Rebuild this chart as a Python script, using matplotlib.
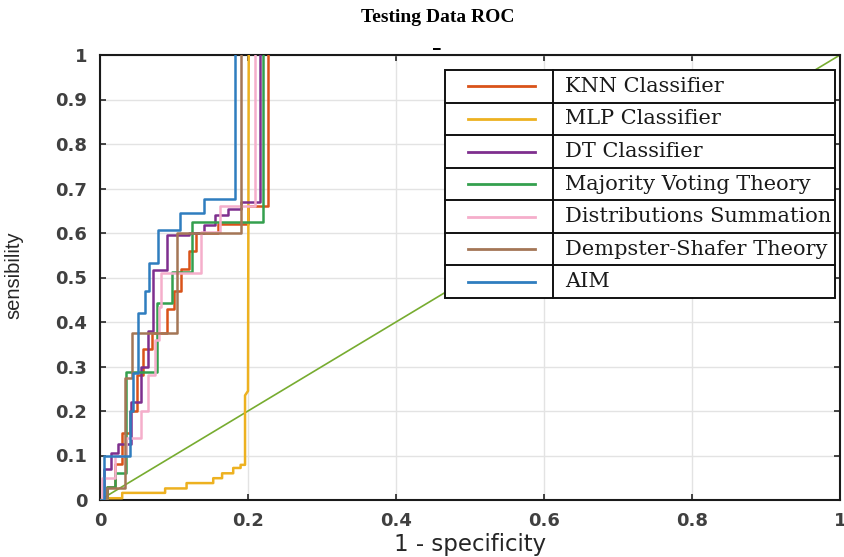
import numpy as np
import matplotlib.pyplot as plt
from matplotlib.patches import Rectangle
from matplotlib import font_manager

# ROC curves (corner points of each staircase)

fpr_knn = [0, 0.01, 0.01, 0.02, 0.02, 0.03, 0.03, 0.04, 0.04, 0.05, 0.05, 0.058, 0.058, 0.07, 0.07,
           0.09, 0.09, 0.10, 0.10, 0.11, 0.11, 0.12, 0.12, 0.13, 0.13, 0.16, 0.16, 0.20, 0.20, 0.227, 0.227]
tpr_knn = [0, 0, 0.03, 0.03, 0.08, 0.08, 0.15, 0.15, 0.20, 0.20, 0.28, 0.28, 0.34, 0.34, 0.375,
           0.375, 0.43, 0.43, 0.47, 0.47, 0.52, 0.52, 0.56, 0.56, 0.60, 0.60, 0.62, 0.62, 0.66, 0.66, 1.0]

fpr_mlp = [0, 0.007, 0.007, 0.03, 0.03, 0.088, 0.088, 0.117, 0.117, 0.153, 0.153, 0.165, 0.165,
           0.18, 0.18, 0.19, 0.19, 0.196, 0.196, 0.2, 0.201]
tpr_mlp = [0, 0, 0.004, 0.004, 0.016, 0.016, 0.026, 0.026, 0.038, 0.038, 0.049, 0.049, 0.06,
           0.06, 0.072, 0.072, 0.079, 0.079, 0.235, 0.245, 1.0]

fpr_dt = [0, 0.005, 0.005, 0.015, 0.015, 0.025, 0.025, 0.042, 0.042, 0.055, 0.055, 0.065, 0.065,
          0.072, 0.072, 0.09, 0.09, 0.12, 0.12, 0.14, 0.14, 0.155, 0.155, 0.173, 0.173, 0.191, 0.191,
          0.216, 0.216]
tpr_dt = [0, 0, 0.07, 0.07, 0.105, 0.105, 0.125, 0.125, 0.22, 0.22, 0.30, 0.30, 0.38,
          0.38, 0.517, 0.517, 0.595, 0.595, 0.60, 0.60, 0.618, 0.618, 0.64, 0.64, 0.655, 0.655, 0.67,
          0.67, 1.0]

fpr_mvt = [0, 0.01, 0.01, 0.02, 0.02, 0.035, 0.035, 0.077, 0.077, 0.097, 0.097, 0.124, 0.124,
           0.22, 0.22]
tpr_mvt = [0, 0, 0.03, 0.03, 0.06, 0.06, 0.288, 0.288, 0.442, 0.442, 0.513, 0.513, 0.625,
           0.625, 1.0]

fpr_ds = [0, 0.003, 0.003, 0.02, 0.02, 0.035, 0.035, 0.056, 0.056, 0.065, 0.065, 0.074, 0.074,
          0.08, 0.08, 0.083, 0.083, 0.137, 0.137, 0.162, 0.162, 0.21, 0.21]
tpr_ds = [0, 0, 0.05, 0.05, 0.10, 0.10, 0.14, 0.14, 0.20, 0.20, 0.28, 0.28, 0.36,
          0.36, 0.434, 0.434, 0.51, 0.51, 0.603, 0.603, 0.661, 0.661, 1.0]

fpr_dst = [0, 0.01, 0.01, 0.034, 0.034, 0.043, 0.043, 0.104, 0.104, 0.191, 0.191]
tpr_dst = [0, 0, 0.027, 0.027, 0.274, 0.274, 0.375, 0.375, 0.60, 0.60, 1.0]

fpr_aim = [0, 0.005, 0.005, 0.04, 0.04, 0.045, 0.045, 0.052, 0.052, 0.061, 0.061, 0.066, 0.066,
           0.079, 0.079, 0.108, 0.108, 0.14, 0.14, 0.183, 0.183]
tpr_aim = [0, 0, 0.10, 0.10, 0.20, 0.20, 0.285, 0.285, 0.42, 0.42, 0.47, 0.47, 0.532,
           0.532, 0.607, 0.607, 0.645, 0.645, 0.676, 0.676, 1.0]

chance_x = [0, 1]
chance_y = [0, 1]

names = ["KNN Classifier", "MLP Classifier", "DT Classifier", "Majority Voting Theory",
         "Distributions Summation", "Dempster-Shafer Theory", "AIM"]
colors = ["#D95319", "#EDB120", "#7E2F8E", "#34A04E", "#F5AECB", "#A47656", "#2F7DBF"]
curves = [(fpr_knn, tpr_knn), (fpr_mlp, tpr_mlp), (fpr_dt, tpr_dt), (fpr_mvt, tpr_mvt),
          (fpr_ds, tpr_ds), (fpr_dst, tpr_dst), (fpr_aim, tpr_aim)]

xticks = [0, 0.2, 0.4, 0.6, 0.8, 1]
xtick_labels = ["0", "0.2", "0.4", "0.6", "0.8", "1"]
yticks = [0, 0.1, 0.2, 0.3, 0.4, 0.5, 0.6, 0.7, 0.8, 0.9, 1]
ytick_labels = ["0", "0.1", "0.2", "0.3", "0.4", "0.5", "0.6", "0.7", "0.8", "0.9", "1"]

#~~~~~~~~~~~~~~~~~~~~~~~~~~~~~~~~~~ Figure ~~~~~~~~~~~~~~~~~~~~~~~~~~~~~~~~~~

fig = plt.figure(figsize=(8.45, 5.57), dpi=100)
ax = fig.add_axes([100/845, 57/557, 740/845, 445/557])

ax.plot(chance_x, chance_y, color="#77AC30", lw=1.2, zorder=2)
for (fx, ty), c in zip(curves, colors):
    ax.plot(fx, ty, color=c, lw=1.8, zorder=3)

ax.set_xlim(0, 1)
ax.set_ylim(0, 1)
ax.set_xticks(xticks)
ax.set_xticklabels(xtick_labels)
ax.set_yticks(yticks)
ax.set_yticklabels(ytick_labels)
ax.grid(True, color="#e3e3e3", lw=1.0)
ax.set_axisbelow(True)
ax.tick_params(direction="in", length=4, width=1.2, top=True, right=True,
               colors="#262626", labelsize=13)
ax.tick_params(axis="x", pad=9)
ax.tick_params(axis="y", pad=9)
for lab in ax.get_xticklabels() + ax.get_yticklabels():
    lab.set_fontweight("bold")
    lab.set_color("#404040")
for sp in ax.spines.values():
    sp.set_linewidth(1.5)
    sp.set_color("#1a1a1a")

ax.set_xlabel("1 - specificity", fontsize=16.5, color="#262626", labelpad=2)

installed = {f.name for f in font_manager.fontManager.ttflist}
if "Liberation Sans Narrow" in installed:
    ax.set_ylabel("sensibility", family="Liberation Sans Narrow", fontsize=17, color="#262626")
else:
    ax.set_ylabel("sensibility", family="Liberation Sans", fontsize=14.5, color="#262626")
ax.yaxis.set_label_coords(-77/740, (500-275)/445)

fig.text(438/845, 1 - 18/557, "Testing Data ROC", family="Liberation Serif",
         fontweight="bold", fontsize=14, ha="center", va="center")
fig.text(437/845, 1 - 42/557, "_", fontsize=11, fontweight="bold", ha="center", va="center")

# table-like legend (boxes drawn in axes fraction)
lx0, lx1 = 0.466, 0.993
ly0, ly1 = 0.454, 0.966
ldiv = 0.612
rh = (ly1 - ly0) / len(names)
ax.add_patch(Rectangle((lx0, ly0), lx1 - lx0, ly1 - ly0, transform=ax.transAxes,
                       facecolor="white", edgecolor="#111111", lw=1.4, zorder=5))
ax.plot([ldiv, ldiv], [ly0, ly1], transform=ax.transAxes, color="#111111", lw=1.4, zorder=6)
for i, (name, c) in enumerate(zip(names, colors)):
    yc = ly1 - (i + 0.5) * rh
    if i > 0:
        ax.plot([lx0, lx1], [ly1 - i * rh] * 2, transform=ax.transAxes,
                color="#111111", lw=1.4, zorder=6)
    ax.plot([0.497, 0.588], [yc, yc], transform=ax.transAxes, color=c, lw=2, zorder=6)
    ax.text(0.628, yc, name, transform=ax.transAxes, family="DejaVu Serif", fontsize=15,
            va="center", ha="left", color="#1a1a1a", zorder=7)

fig.savefig("out.png", dpi=100)
